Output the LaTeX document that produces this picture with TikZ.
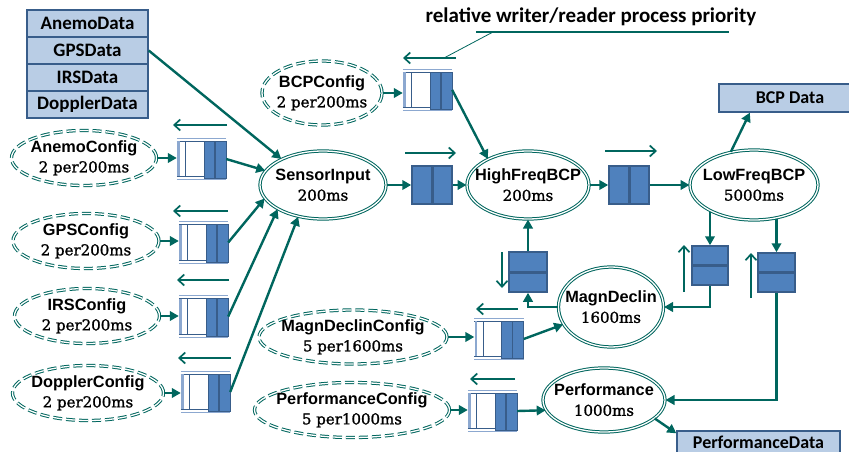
\documentclass[tikz,border=0pt]{standalone}
\usepackage{fontspec}
\newfontfamily\arialf{Liberation Sans}
\newfontfamily\serf{DejaVu Serif}[FakeBold=1.3]
\newfontfamily\calf{Carlito}
\usetikzlibrary{shapes.geometric,arrows.meta,calc,backgrounds}
\definecolor{tl}{RGB}{0,102,94}
\definecolor{qb}{RGB}{79,129,189}
\definecolor{qbd}{RGB}{56,93,138}
\definecolor{qlt}{RGB}{140,168,208}
\definecolor{lb}{RGB}{185,205,229}
\newcommand{\proclab}[2]{{\arialf\bfseries #1}\\{\serf\fontsize{15}{20}\selectfont #2}}
\begin{document}
\begin{tikzpicture}[x=1pt,y=-1pt,
  arr/.style={draw=tl,line width=2.4pt,-{Triangle[length=9pt,width=9.5pt]}},
  prio/.style={draw=tl,line width=1.7pt,-{Straight Barb[length=6pt,width=11pt,line width=1.7pt]}},
  proc/.style={ellipse,draw=tl,double=white,double distance=1.3pt,line width=1pt,fill=white,
    inner xsep=-22pt,inner ysep=-12pt,align=center,font=\fontsize{16.3}{20}\selectfont},
  cfg/.style={proc,dash pattern=on 9pt off 4pt},
  box/.style={draw=qbd,fill=lb,line width=1.4pt,minimum width=121pt,minimum height=27pt,
    inner sep=0,font=\calf\bfseries\fontsize{19}{20}\selectfont},
  hq/.style={draw=qbd,fill=qb,line width=1.5pt,inner sep=0,minimum width=40pt,minimum height=38pt,
    path picture={\draw[qbd,line width=3pt] (path picture bounding box.north) -- (path picture bounding box.south);}},
  vq/.style={draw=qbd,fill=qb,line width=1.5pt,inner sep=0,minimum width=37pt,minimum height=39pt,
    path picture={\draw[qbd,line width=3pt] (path picture bounding box.west) -- (path picture bounding box.east);}},
  cq/.style={inner sep=0,minimum width=49pt,minimum height=41pt}
]
\useasboundingbox (0,0) rectangle (849,452);
\clip (0,0) rectangle (849,452);

% title
\node[font=\calf\bfseries\fontsize{21}{22}\selectfont] (title) at (591,17) {relative writer/reader process priority};
\coordinate (ulA) at (476,32);
\coordinate (ulB) at (729,32);
\coordinate (ulC) at (493,32);
\coordinate (ulD) at (444,58);
\draw[tl,line width=1.8pt] (ulA) -- (ulB);
\draw[tl,line width=0.8pt] (ulC) -- (ulD);

% data boxes
\node[box] (anemo) at (87.5,23.5) {AnemoData};
\node[box] (gps) at (87.5,50.5) {GPSData};
\node[box] (irs) at (87.5,77.5) {IRSData};
\node[box] (dop) at (87.5,104.5) {DopplerData};
\node[box,minimum width=142pt,minimum height=28pt,font=\calf\bfseries\fontsize{18}{20}\selectfont] (bcpd) at (790,98) {BCP Data};
\node[box,minimum width=163pt,minimum height=22pt,font=\calf\bfseries\fontsize{18}{20}\selectfont] (pdata) at (758.5,442) {PerformanceData};

% config ellipses
\node[cfg,minimum width=145pt,minimum height=55pt] (acfg) at (84,158) {\proclab{AnemoConfig}{2 per200ms}};
\node[cfg,minimum width=146pt,minimum height=55pt] (gcfg) at (86,241) {\proclab{GPSConfig}{2 per200ms}};
\node[cfg,minimum width=145pt,minimum height=55pt] (icfg) at (87,316) {\proclab{IRSConfig}{2 per200ms}};
\node[cfg,minimum width=151pt,minimum height=55pt] (dcfg) at (88,393) {\proclab{DopplerConfig}{2 per200ms}};
\node[cfg,minimum width=120pt,minimum height=64pt] (bcfg) at (322,93) {\proclab{BCPConfig}{2 per200ms}};
\node[cfg,minimum width=188pt,minimum height=54pt] (mcfg) at (353,337) {\proclab{MagnDeclinConfig}{5 per1600ms}};
\node[cfg,minimum width=195pt,minimum height=55pt] (pcfg) at (352,410) {\proclab{PerformanceConfig}{5 per1000ms}};

% processes
\node[proc,minimum width=126pt,minimum height=68pt] (si) at (323,185) {\proclab{SensorInput}{200ms}};
\node[proc,minimum width=122pt,minimum height=68pt] (hf) at (528,185) {\proclab{HighFreqBCP}{200ms}};
\node[proc,minimum width=128pt,minimum height=70pt] (lf) at (754,185) {\proclab{LowFreqBCP}{5000ms}};
\node[proc,minimum width=105pt,minimum height=80pt] (md) at (611,307) {\proclab{MagnDeclin}{1600ms}};
\node[proc,minimum width=122pt,minimum height=64pt] (perf) at (604,400) {\proclab{Performance}{1000ms}};

% config queues
\node[cq] (qa) at (201.5,159) {};
\node[cq] (qg) at (203.5,242.5) {};
\node[cq] (qi) at (203.5,316.5) {};
\node[cq] (qd) at (205.5,392) {};
\node[cq] (qb) at (427.5,90) {};
\node[cq] (qm) at (499,339) {};
\node[cq] (qp) at (492.5,411) {};
\foreach \q in {qa,qg,qi,qd,qb,qm,qp}{
  \draw[qlt,line width=1pt] (\q.north west) -- (\q.north east);
  \draw[qbd,line width=1.2pt] ([yshift=-3pt]\q.north west) -- ([yshift=-3pt]\q.north east);
  \draw[qlt,line width=2.5pt] ([xshift=1.5pt,yshift=-3pt]\q.north west) -- ([xshift=1.5pt,yshift=3pt]\q.south west);
  \draw[qbd,line width=0.8pt] ([xshift=9pt,yshift=-3pt]\q.north west) -- ([xshift=9pt,yshift=3pt]\q.south west);
  \draw[qbd,line width=1.2pt] ([yshift=3pt]\q.south west) -- ([yshift=3pt]\q.south east);
  \draw[qlt,line width=1pt] (\q.south west) -- (\q.south east);
  \filldraw[fill=qb,draw=qbd,line width=1.2pt] ([xshift=-22pt,yshift=-3pt]\q.north east) rectangle ([yshift=1pt]\q.south east);
  \draw[qbd,line width=1.5pt] ([xshift=-11pt,yshift=-3pt]\q.north east) -- ([xshift=-11pt,yshift=1pt]\q.south east);
}

% plain queues
\node[hq] (qs) at (432,185) {};
\node[hq] (qh) at (629,185) {};
\node[vq,minimum width=38pt,minimum height=40pt] (qmd) at (528,272) {};
\node[vq,minimum width=36pt] (ql1) at (710,265.5) {};
\node[vq] (ql2) at (776.5,272.5) {};

% priority arrows
\draw[prio] (227,125) -- (173,125);
\draw[prio] (228,211) -- (173,211);
\draw[prio] (229,280) -- (177,280);
\draw[prio] (231,358) -- (178,358);
\draw[prio] (456,58) -- (403,58);
\draw[prio] (518,309) -- (476,309);
\draw[prio] (515,379) -- (470,379);
\draw[prio] (405,153) -- (456,153);
\draw[prio] (605,151) -- (657,151);
\draw[prio] (502,252) -- (502,288);
\draw[prio] (684,292) -- (684,245);
\draw[prio] (751,298) -- (751,253);

% connectors
\draw[arr] (gps.east) -- (si.148);
\draw[arr] (acfg.east) -- (acfg.east -| qa.west);
\draw[arr] (gcfg.east) -- (gcfg.east -| qg.west);
\draw[arr] (icfg.east) -- (icfg.east -| qi.west);
\draw[arr] (dcfg.east) -- (dcfg.east -| qd.west);
\draw[arr] (qa.east) -- (si.166);
\draw[arr] (qg.east) -- (si.193);
\draw[arr] (qi.east) -- (si.208);
\draw[arr] (qd.east) -- (si.232);
\draw[arr] (si.east) -- (qs.west);
\draw[arr] (qs.east) -- (hf.west);
\draw[arr] (bcfg.east) -- (bcfg.east -| qb.west);
\draw[arr] (qb.east) -- (hf.147);
\draw[arr] (hf.east) -- (qh.west);
\draw[arr] (qh.east) -- (lf.west);
\draw[arr] (lf.125) -- ($(bcpd.south west)!0.22!(bcpd.south east)$);
\begin{scope}[on background layer]
  \draw[arr] (lf.center -| ql1.north) -- (ql1.north);
  \draw[arr] (lf.center -| ql2.north) -- (ql2.north);
\end{scope}
\draw[arr] (ql1.south) |- (md.east);
\draw[arr] (ql2.south) |- (perf.east);
\draw[arr] (md.west) -| (qmd.south);
\draw[arr] (qmd.north) -- (hf.south);
\draw[arr] (mcfg.east) -- (mcfg.east -| qm.west);
\draw[arr] (qm.east) -- (md.200);
\draw[arr] (pcfg.east) -- (pcfg.east -| qp.west);
\draw[arr] (qp.east) -- (perf.190);
\draw[arr] (perf.-20) -- ([yshift=-3pt]pdata.north west);
\end{tikzpicture}
\end{document}
